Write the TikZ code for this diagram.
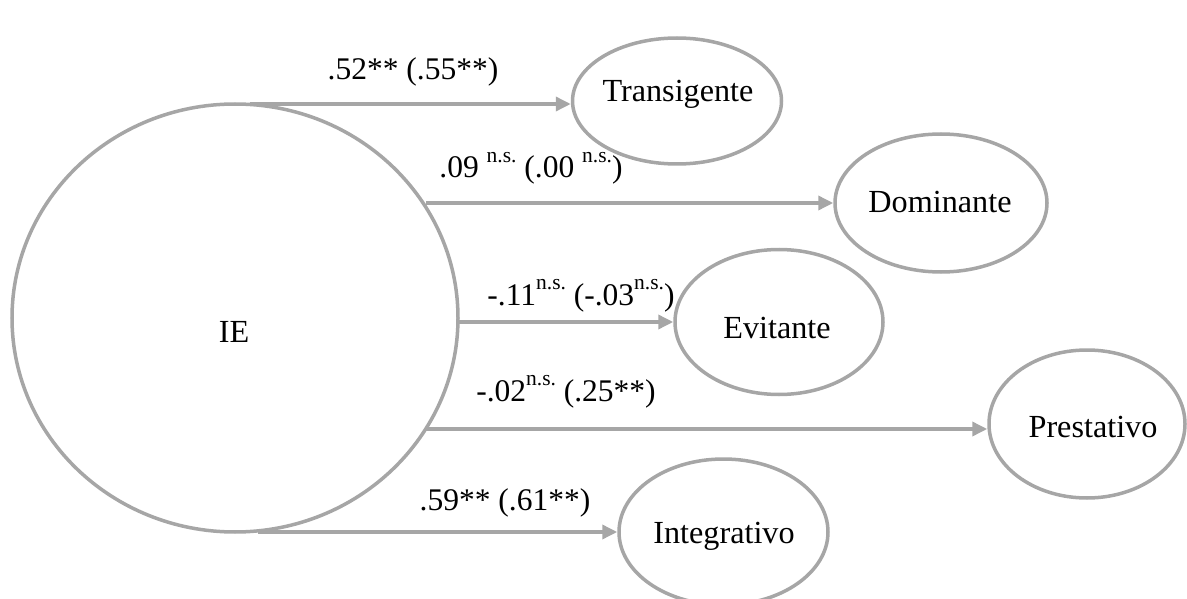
\documentclass[tikz,border=0pt]{standalone}
\usepackage{fontspec}
\setmainfont{Liberation Serif}
\usetikzlibrary{shapes.geometric,arrows.meta}
\definecolor{linegray}{HTML}{A6A6A6}
\newcommand\nsup{\raisebox{15.5pt}{\fontsize{21.5}{21.5}\selectfont n.s.}}
\begin{document}
\begin{tikzpicture}[x=1pt,y=-1pt,
  every node/.style={text=black},
  latent/.style={ellipse, draw=linegray, line width=3.5pt, inner sep=0pt, fill=white},
  path/.style={draw=linegray, line width=3.5pt, -{Triangle[length=15pt,width=14pt]}},
  coef/.style={anchor=base, inner sep=0pt, font=\fontsize{31.5}{37}\selectfont},
  vname/.style={anchor=base, inner sep=0pt, font=\fontsize{32.2}{38}\selectfont}]
\useasboundingbox (0,0) rectangle (1187,599);
% factor nodes
\node[latent, minimum width=446pt, minimum height=428pt] (IE) at (235,318) {};
\node[vname] (IEt) at (234,342) {IE};
\node[latent, minimum width=209pt, minimum height=126pt] (T) at (677,101) {};
\node[vname] (Tt) at (678,102) {Transigente};
\node[latent, minimum width=212pt, minimum height=138pt] (D) at (941,203) {};
\node[vname] (Dt) at (940,213) {Dominante};
\node[latent, minimum width=208pt, minimum height=145pt] (E) at (779,322) {};
\node[vname] (Et) at (777,338) {Evitante};
\node[latent, minimum width=196pt, minimum height=148pt] (P) at (1087,424) {};
\node[vname] (Pt) at (1093,437) {Prestativo};
\node[latent, minimum width=209pt, minimum height=146pt] (I) at (723.5,532) {};
\node[vname] (It) at (724,543) {Integrativo};
% start points on IE
\coordinate (s1) at (250,104);
\coordinate (s2) at (426,203);
\coordinate (s3) at (458,322);
\coordinate (s4) at (426,429);
\coordinate (s5) at (258,532);
% paths
\draw[path] (s1) -- (s1 -| T.west);
\draw[path] (s2) -- (D.west);
\draw[path] (s3) -- (E.west);
\draw[path] (s4) -- (s4 -| P.west);
\draw[path] (s5) -- (I.west);
% coefficients
\node[coef] (c1) at (413,80) {.52** (.55**)};
\node[coef] (c2) at (531,178) {.09 \nsup{} (.00 \nsup)};
\node[coef] (c3) at (581,305) {-.11\nsup{} (-.03\nsup)};
\node[coef] (c4) at (566,401) {-.02\nsup{} (.25**)};
\node[coef] (c5) at (505,510) {.59** (.61**)};
\end{tikzpicture}
\end{document}
